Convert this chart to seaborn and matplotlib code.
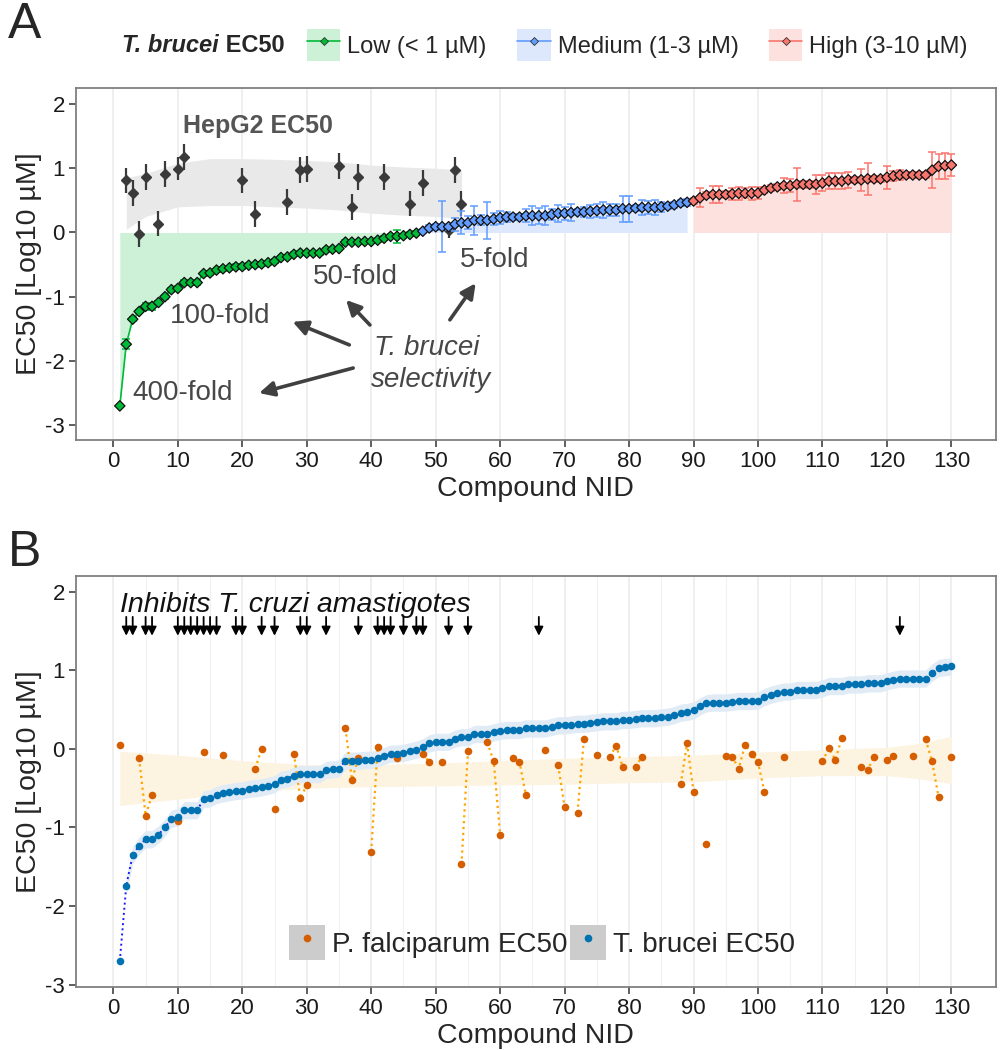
import numpy as np
import pandas as pd
import matplotlib
matplotlib.use("Agg")
import matplotlib.pyplot as plt
import seaborn as sns
from matplotlib.patches import Patch
from matplotlib.lines import Line2D

# T. brucei EC50 (log10 uM) for compound NID 1..130 (sorted)
tb_ec50 = [
    -2.70, -1.74, -1.35, -1.23, -1.15, -1.15, -1.09, -1.00, -0.89, -0.87,
    -0.78, -0.78, -0.78, -0.64, -0.63, -0.585, -0.565, -0.55, -0.535, -0.53,
    -0.51, -0.50, -0.49, -0.47, -0.45, -0.39, -0.38, -0.34, -0.32, -0.32,
    -0.32, -0.32, -0.27, -0.26, -0.25, -0.15, -0.15, -0.15, -0.14, -0.14,
    -0.12, -0.09, -0.06, -0.06, -0.05, -0.03, -0.01, 0.02, 0.07, 0.09,
    0.09, 0.09, 0.13, 0.15, 0.15, 0.19, 0.19, 0.19, 0.21, 0.23,
    0.24, 0.24, 0.24, 0.26, 0.26, 0.26, 0.26, 0.28, 0.30, 0.30,
    0.31, 0.32, 0.32, 0.33, 0.34, 0.35, 0.35, 0.35, 0.37, 0.37,
    0.38, 0.39, 0.39, 0.39, 0.40, 0.41, 0.43, 0.46, 0.47, 0.49,
    0.54, 0.58, 0.59, 0.59, 0.59, 0.60, 0.61, 0.61, 0.61, 0.615,
    0.66, 0.69, 0.71, 0.73, 0.73, 0.75, 0.75, 0.75, 0.75, 0.77,
    0.80, 0.80, 0.80, 0.82, 0.82, 0.82, 0.835, 0.835, 0.835, 0.86,
    0.88, 0.895, 0.895, 0.895, 0.895, 0.895, 0.97, 1.03, 1.04, 1.05,
]
tb_err = [
    0.02, 0.08, 0.03, 0.03, 0.06, 0.06, 0.03, 0.03, 0.03, 0.03,
    0.04, 0.03, 0.04, 0.03, 0.03, 0.03, 0.03, 0.03, 0.04, 0.04,
    0.03, 0.03, 0.03, 0.03, 0.03, 0.03, 0.03, 0.03, 0.03, 0.03,
    0.03, 0.03, 0.03, 0.03, 0.03, 0.03, 0.03, 0.03, 0.03, 0.03,
    0.03, 0.03, 0.03, 0.10, 0.03, 0.03, 0.03, 0.03, 0.05, 0.05,
    0.40, 0.05, 0.10, 0.18, 0.10, 0.23, 0.08, 0.29, 0.10, 0.10,
    0.08, 0.05, 0.05, 0.10, 0.15, 0.12, 0.15, 0.08, 0.13, 0.10,
    0.13, 0.05, 0.08, 0.10, 0.10, 0.12, 0.10, 0.10, 0.20, 0.20,
    0.05, 0.12, 0.10, 0.12, 0.08, 0.05, 0.05, 0.05, 0.05, 0.05,
    0.15, 0.05, 0.13, 0.13, 0.05, 0.10, 0.10, 0.08, 0.10, 0.10,
    0.05, 0.05, 0.05, 0.12, 0.10, 0.26, 0.05, 0.05, 0.15, 0.12,
    0.12, 0.12, 0.12, 0.12, 0.05, 0.17, 0.25, 0.05, 0.05, 0.18,
    0.08, 0.08, 0.05, 0.05, 0.05, 0.05, 0.28, 0.20, 0.20, 0.17,
]
low_last = 47      # last NID of the "Low" group
medium_last = 89   # last NID of the "Medium" group

# HepG2 EC50
hep_nid = [2, 3, 4, 5, 7, 8, 10, 11, 20, 22, 27, 29, 30, 35, 37, 38, 42, 46, 48, 52, 53, 54]
hep_ec50 = [0.81, 0.61, -0.02, 0.86, 0.14, 0.91, 0.99, 1.18, 0.81, 0.29, 0.47,
            0.97, 0.99, 1.04, 0.40, 0.86, 0.86, 0.45, 0.77, 0.04, 0.97, 0.45]
hep_err = [0.2, 0.2, 0.2, 0.2, 0.2, 0.2, 0.18, 0.2, 0.2, 0.2, 0.2,
           0.2, 0.2, 0.2, 0.2, 0.2, 0.2, 0.2, 0.2, 0.12, 0.2, 0.2]
hep_band_nid = [2, 5, 10, 15, 20, 25, 30, 35, 40, 45, 50, 54]
hep_band_lo = [0.05, 0.25, 0.40, 0.42, 0.42, 0.40, 0.38, 0.35, 0.30, 0.27, 0.25, 0.22]
hep_band_hi = [0.85, 0.92, 1.08, 1.15, 1.15, 1.14, 1.12, 1.10, 1.05, 1.02, 1.00, 0.98]

# P. falciparum EC50
pf_nid = [1, 4, 5, 6, 10, 14, 17, 22, 23, 25, 28, 29, 30, 36, 37, 38, 40, 41, 44,
          48, 49, 51, 54, 55, 58, 59, 60, 62, 63, 64, 67, 69, 70, 72, 73, 75, 77, 78,
          79, 81, 82, 88, 89, 90, 92, 95, 96, 97, 98, 99, 100, 101, 104, 110, 111,
          112, 113, 116, 117, 118, 120, 121, 124, 126, 127, 128, 130]
pf_ec50 = [0.05, -0.12, -0.85, -0.585, -0.92, -0.04, -0.08, -0.25, 0.0, -0.76,
           -0.06, -0.63, -0.46, 0.26, -0.39, -0.12, -1.31, 0.03, -0.12,
           -0.06, -0.17, -0.17, -1.47, -0.03, 0.085, -0.16, -1.09, -0.12, -0.17,
           -0.59, -0.01, -0.21, -0.74, -0.81, 0.13, -0.08, -0.10, 0.04,
           -0.23, -0.23, -0.10, -0.45, 0.07, -0.55, -1.21, -0.085, -0.10, -0.25,
           0.05, -0.06, -0.17, -0.55, -0.10, -0.16, 0.01,
           -0.14, 0.14, -0.23, -0.27, -0.10, -0.14, -0.085, -0.085, 0.12, -0.16,
           -0.61, -0.10]
pf_band_nid = [1, 10, 20, 30, 40, 50, 60, 70, 80, 90, 100, 110, 120, 125, 130]
pf_band_lo = [-0.72, -0.64, -0.56, -0.50, -0.48, -0.47, -0.46, -0.45, -0.43, -0.42,
              -0.37, -0.34, -0.34, -0.38, -0.44]
pf_band_hi = [-0.03, -0.08, -0.15, -0.20, -0.20, -0.18, -0.15, -0.12, -0.10, -0.08,
              -0.04, -0.01, 0.02, 0.07, 0.16]
tb_band_half = 0.11

# compounds inhibiting T. cruzi amastigotes
cruzi_nid = [2, 3, 5, 6, 10, 11, 12, 13, 14, 15, 16, 19, 20, 23, 25, 29, 30, 33,
             38, 41, 42, 43, 45, 47, 48, 52, 55, 66, 122]

group_names = ['Low', 'Medium', 'High']
group_labels = ['Low (< 1 µM)', 'Medium (1-3 µM)', 'High (3-10 µM)']
colors = {'Low': '#00BA38', 'Medium': '#619CFF', 'High': '#F8766D'}
fills = {'Low': '#cdf1d7', 'Medium': '#dde8fd', 'High': '#fde1df'}

sns.set_theme(style="white")
plt.rcParams['font.family'] = ['Liberation Sans', 'DejaVu Sans']

nid = np.arange(1, len(tb_ec50) + 1)
df = pd.DataFrame({'nid': nid, 'ec50': tb_ec50, 'err': tb_err})
df['group'] = np.where(df.nid <= low_last, 'Low',
                       np.where(df.nid <= medium_last, 'Medium', 'High'))

fig = plt.figure(figsize=(10.01, 10.5), dpi=100)
axA = fig.add_axes([0.0759, 0.581, 0.919, 0.3352])
axB = fig.add_axes([0.0759, 0.0600, 0.919, 0.3914])

ann_color = '#474747'

# ---------- Panel A ----------
axA.fill_between(hep_band_nid, hep_band_lo, hep_band_hi, color='#e9e9e9', lw=0, zorder=1)
for g in group_names:
    sub = df[df.group == g]
    axA.fill_between(sub.nid, 0, sub.ec50, color=fills[g], lw=0, zorder=1)

axA.errorbar(hep_nid, hep_ec50, yerr=hep_err, fmt='D', color='#3a3a3a', ms=5.5,
             elinewidth=1.6, capsize=0, zorder=3)

for g in group_names:
    sub = df[df.group == g]
    axA.errorbar(sub.nid, sub.ec50, yerr=sub.err, fmt='none', ecolor=colors[g],
                 elinewidth=1.1, capsize=3, capthick=1.1, zorder=4)
sns.lineplot(data=df, x='nid', y='ec50', hue='group', palette=colors, ax=axA,
             legend=False, lw=1.2, zorder=5)
sns.scatterplot(data=df, x='nid', y='ec50', hue='group', palette=colors, ax=axA,
                marker='D', s=28, edgecolor='#111111', linewidth=0.9, legend=False, zorder=6)

axA.text(10.8, 1.66, 'HepG2 EC50', fontsize=18, weight='bold', color='#555555',
         ha='left', va='center')
axA.text(30.9, -0.69, '50-fold', fontsize=20, color=ann_color, ha='left', va='center')
axA.text(53.7, -0.43, '5-fold', fontsize=20, color=ann_color, ha='left', va='center')
axA.text(8.7, -1.30, '100-fold', fontsize=20, color=ann_color, ha='left', va='center')
axA.text(3.0, -2.50, '400-fold', fontsize=20, color=ann_color, ha='left', va='center')
axA.text(48.6, -1.80, 'T. brucei', fontsize=20, style='italic', color=ann_color,
         ha='center', va='center')
axA.text(49.2, -2.30, 'selectivity', fontsize=20, style='italic', color=ann_color,
         ha='center', va='center')

arrow_tails = [(36.6, -1.75), (37.2, -2.11), (39.8, -1.44), (52.2, -1.36)]
arrow_heads = [(27.8, -1.39), (22.6, -2.50), (36.1, -1.05), (56.2, -0.79)]
for tail, head in zip(arrow_tails, arrow_heads):
    axA.annotate('', xy=head, xytext=tail,
                 arrowprops=dict(arrowstyle='-|>', color='#404040', lw=2.6,
                                 mutation_scale=22, shrinkA=0, shrinkB=0))

# ---------- Panel B ----------
axB.fill_between(pf_band_nid, pf_band_lo, pf_band_hi, color='#fdf3e1', lw=0, zorder=1)
tb = np.array(tb_ec50)
axB.fill_between(nid[1:], tb[1:] - tb_band_half, tb[1:] + tb_band_half,
                 color='#e0ebf6', lw=0, zorder=1)

pf_full = np.full(len(nid), np.nan)
pf_full[np.array(pf_nid) - 1] = pf_ec50
axB.plot(nid, pf_full, ls=':', color='#FFA500', lw=1.6, zorder=2)
axB.plot(nid, tb, ls=':', color='#1a1aff', lw=1.4, zorder=2)

pf_df = pd.DataFrame({'nid': pf_nid, 'ec50': pf_ec50})
sns.scatterplot(data=pf_df, x='nid', y='ec50', color='#D55E00', s=30, linewidth=0,
                ax=axB, zorder=4)
sns.scatterplot(data=df, x='nid', y='ec50', color='#0072B2', s=30, linewidth=0,
                ax=axB, zorder=5)

axB.text(1.0, 1.83, 'Inhibits T. cruzi amastigotes', fontsize=20.5, style='italic',
         color='#111111', ha='left', va='center')
for n in cruzi_nid:
    axB.annotate('', xy=(n, 1.44), xytext=(n, 1.68),
                 arrowprops=dict(arrowstyle='-|>', color='black', lw=1.3,
                                 mutation_scale=13, shrinkA=0, shrinkB=0))

leg_b_handles = [
    (Patch(facecolor='#cccccc', edgecolor='none'),
     Line2D([], [], ls='', marker='o', color='#D55E00', ms=4.5)),
    (Patch(facecolor='#cccccc', edgecolor='none'),
     Line2D([], [], ls='', marker='o', color='#0072B2', ms=4.5)),
]
axB.legend(leg_b_handles, ['P. falciparum EC50', 'T. brucei EC50'], loc='center',
           bbox_to_anchor=(0.5065, 0.108), ncol=2, frameon=False, fontsize=20,
           handlelength=1.3, handleheight=1.55, handletextpad=0.25, columnspacing=0.1)

# ---------- shared styling ----------
for ax in (axA, axB):
    ax.set_xlim(-5.8, 136.9)
    ax.set_xticks(range(0, 131, 10))
    ax.set_yticks(range(-3, 3))
    ax.set_yticklabels([str(v) for v in range(-3, 3)])
    ax.grid(axis='x', which='major', color='#ebebeb', lw=1.1)
    ax.grid(axis='y', visible=False)
    ax.set_axisbelow(True)
    for s in ax.spines.values():
        s.set_color('#7f7f7f')
        s.set_linewidth(1.3)
    ax.tick_params(axis='both', which='major', direction='out', length=5, width=1.1,
                   color='#333333', labelsize=16, labelcolor='#1a1a1a', pad=3,
                   bottom=True, left=True)
    ax.set_xlabel('Compound NID', fontsize=20.5, labelpad=3)
    ax.set_ylabel('EC50 [Log10 µM]', fontsize=20.5, labelpad=2)

axA.set_ylim(-3.23, 2.25)
axB.set_ylim(-3.03, 2.20)
axB.set_xticks(range(5, 131, 10), minor=True)
axB.grid(axis='x', which='minor', color='#f0f0f0', lw=0.8)
axB.tick_params(axis='x', which='minor', length=0)

# legend of panel A, above the panel
leg_a_handles = [(Patch(facecolor=fills[g], edgecolor='none'),
                  Line2D([], [], color=colors[g], lw=1.2, marker='D', ms=4.5,
                         mfc=colors[g], mec='#333333', mew=0.6))
                 for g in group_names]
fig.legend(leg_a_handles, group_labels, loc='center left',
           bbox_to_anchor=(286 / 1001, 1 - 45 / 1050), ncol=3, frameon=False,
           fontsize=17, handlelength=1.4, handleheight=1.7, handletextpad=0.3,
           columnspacing=1.3)
t1 = fig.text(122 / 1001, 1 - 45 / 1050, 'T. brucei', fontsize=17, style='italic',
              weight='bold', ha='left', va='center')
axA.annotate(' EC50', xy=(1, 0.5), xycoords=t1, fontsize=17, weight='bold',
             ha='left', va='center')

fig.text(8 / 1001, 1 - 2 / 1050, 'A', fontsize=36, ha='left', va='top')
fig.text(8 / 1001, 1 - 530 / 1050, 'B', fontsize=36, ha='left', va='top')

fig.savefig('out.png', dpi=100)
